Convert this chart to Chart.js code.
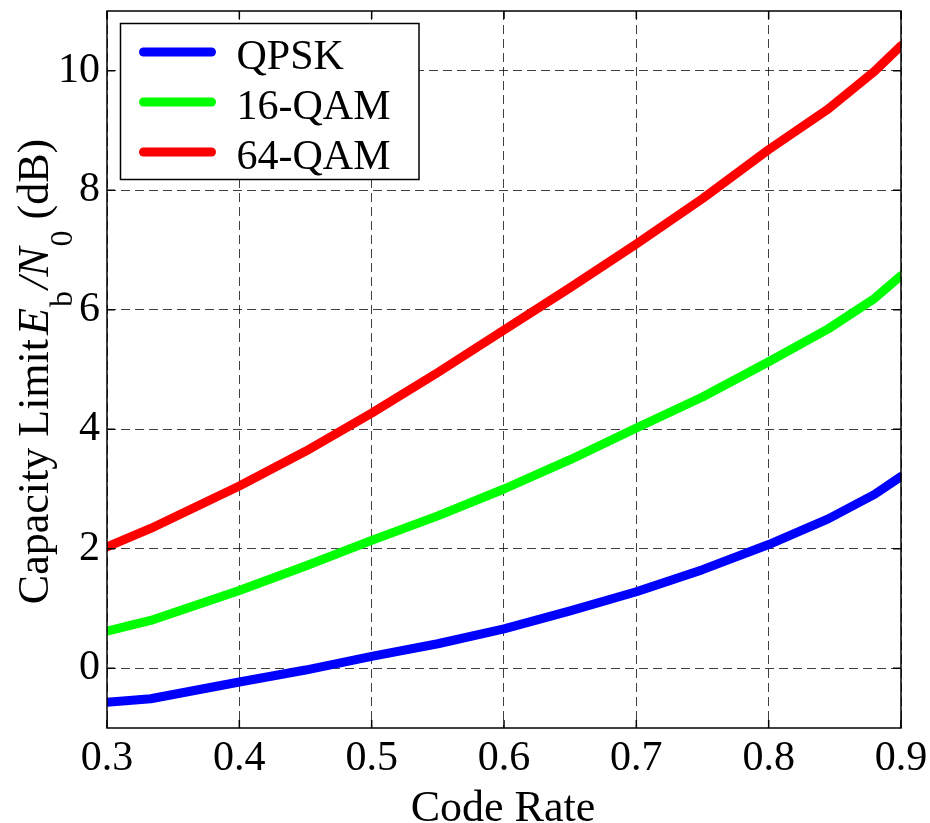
<!DOCTYPE html>
<html>
<head>
<meta charset="utf-8">
<title>Capacity limit vs code rate</title>
<script src="https://cdn.jsdelivr.net/npm/chart.js@4/dist/chart.umd.min.js"></script>
<style>
  html, body { margin: 0; padding: 0; background: #fff; }
  #wrap { width: 930px; height: 823px; }
</style>
</head>
<body>
<div id="wrap"><canvas id="chart" width="930" height="823"></canvas></div>
<script>
// code rates (x) and Eb/N0 capacity limits in dB for each modulation
const codeRate = [0.3, 0.333, 0.4, 0.45, 0.5, 0.55, 0.6, 0.65, 0.7, 0.75, 0.8, 0.845, 0.88, 0.9];
const qpsk  = [-0.57, -0.51, -0.23, -0.03, 0.20, 0.41, 0.66, 0.96, 1.28, 1.65, 2.07, 2.50, 2.91, 3.21];
const qam16 = [0.62, 0.80, 1.30, 1.71, 2.14, 2.55, 3.00, 3.49, 4.02, 4.54, 5.13, 5.68, 6.19, 6.57];
const qam64 = [2.03, 2.34, 3.05, 3.63, 4.27, 4.95, 5.66, 6.37, 7.10, 7.86, 8.68, 9.36, 9.99, 10.42];

const seriesNames = ['QPSK', '16-QAM', '64-QAM'];
const seriesColors = ['#0000ff', '#00ff00', '#ff0000'];

const xTicks = [0.3, 0.4, 0.5, 0.6, 0.7, 0.8, 0.9];
const yTicks = [0, 2, 4, 6, 8, 10];

const FONT = "'Liberation Serif', 'Times New Roman', serif";

function toPoints(ys) {
    return codeRate.map((x, i) => ({ x: x, y: ys[i] }));
}

// box around the axes plus matlab-style inward tick marks
const axesBox = {
    id: 'axesBox',
    afterDatasetsDraw(chart) {
        const { ctx, chartArea: a, scales } = chart;
        const len = 8;
        ctx.save();
        ctx.strokeStyle = '#000';
        ctx.lineWidth = 1.5;
        ctx.beginPath();
        xTicks.forEach(v => {
            const px = scales.x.getPixelForValue(v);
            ctx.moveTo(px, a.bottom); ctx.lineTo(px, a.bottom - len);
            ctx.moveTo(px, a.top); ctx.lineTo(px, a.top + len);
        });
        yTicks.forEach(v => {
            const py = scales.y.getPixelForValue(v);
            ctx.moveTo(a.left, py); ctx.lineTo(a.left + len, py);
            ctx.moveTo(a.right, py); ctx.lineTo(a.right - len, py);
        });
        ctx.stroke();
        ctx.strokeRect(a.left, a.top, a.right - a.left, a.bottom - a.top);
        ctx.restore();
    }
};

// legend box in the upper-left corner of the plot
const boxLegend = {
    id: 'boxLegend',
    afterDraw(chart) {
        const { ctx, chartArea: a } = chart;
        const x0 = a.left + 13.5, y0 = a.top + 12.5;
        const w = 298.5, h = 156;
        ctx.save();
        ctx.fillStyle = '#fff';
        ctx.fillRect(x0, y0, w, h);
        ctx.strokeStyle = '#000';
        ctx.lineWidth = 1.5;
        ctx.strokeRect(x0, y0, w, h);
        ctx.font = '42px ' + FONT;
        ctx.textBaseline = 'alphabetic';
        ctx.textAlign = 'left';
        chart.data.datasets.forEach((ds, i) => {
            const cy = y0 + 28.5 + i * 50;
            ctx.strokeStyle = ds.borderColor;
            ctx.lineWidth = 9;
            ctx.lineCap = 'round';
            ctx.beginPath();
            ctx.moveTo(x0 + 23, cy);
            ctx.lineTo(x0 + 91, cy);
            ctx.stroke();
            ctx.fillStyle = '#000';
            ctx.fillText(ds.label, x0 + 116, cy + 16.5);
        });
        ctx.restore();
    }
};

// axis titles; the y title needs italic letters and subscripts
const axisTitles = {
    id: 'axisTitles',
    afterDraw(chart) {
        const { ctx, chartArea: a } = chart;
        ctx.save();
        ctx.fillStyle = '#000';
        ctx.textBaseline = 'alphabetic';

        ctx.font = '44px ' + FONT;
        ctx.textAlign = 'center';
        ctx.fillText('Code Rate', (a.left + a.right) / 2 - 1, 821);

        const main = '44px ' + FONT;
        const ital = 'italic 44px ' + FONT;
        const sub = '32px ' + FONT;
        const parts = [
            { t: 'Capacity Limit', f: main, dy: 0, gap: 4 },
            { t: 'E', f: ital, dy: 0, gap: 1 },
            { t: 'b', f: sub, dy: 24, gap: 2 },
            { t: '/', f: ital, dy: 0, gap: 0 },
            { t: 'N', f: ital, dy: 0, gap: 1 },
            { t: '0', f: sub, dy: 24, gap: 0 },
            { t: ' (dB)', f: main, dy: 0, gap: 0 }
        ];
        let total = 0;
        parts.forEach(p => { ctx.font = p.f; p.w = ctx.measureText(p.t).width; total += p.w + p.gap; });
        ctx.translate(48, 371.5);
        ctx.rotate(-Math.PI / 2);
        ctx.textAlign = 'left';
        let x = -total / 2;
        parts.forEach(p => {
            ctx.font = p.f;
            ctx.fillText(p.t, x, p.dy);
            x += p.w + p.gap;
        });
        ctx.restore();
    }
};

const gridStyle = {
    color: 'rgba(0, 0, 0, 0.75)',
    lineWidth: 1,
    drawTicks: false
};

// keep the plot box where the layout padding puts it
function noEdgePadding(s) {
    s.paddingTop = 0;
    s.paddingBottom = 0;
    s.paddingLeft = 0;
    s.paddingRight = 0;
}

new Chart(document.getElementById('chart'), {
    type: 'line',
    data: {
        datasets: [qpsk, qam16, qam64].map((ys, i) => ({
            label: seriesNames[i],
            data: toPoints(ys),
            borderColor: seriesColors[i],
            backgroundColor: seriesColors[i],
            borderWidth: 9,
            borderJoinStyle: 'round',
            borderCapStyle: 'round',
            pointRadius: 0,
            tension: 0,
            fill: false,
            clip: 0
        }))
    },
    options: {
        responsive: false,
        animation: false,
        events: [],
        layout: { padding: { top: 11, right: 29, left: 0, bottom: 0 } },
        plugins: {
            legend: { display: false },
            tooltip: { enabled: false },
            title: { display: false }
        },
        scales: {
            x: {
                type: 'linear',
                min: 0.3,
                max: 0.9,
                afterBuildTicks: s => { s.ticks = xTicks.map(v => ({ value: v })); },
                afterFit: s => { s.height = 95; noEdgePadding(s); },
                ticks: {
                    font: { family: FONT, size: 42 },
                    color: '#000',
                    padding: 6,
                    maxRotation: 0,
                    callback: v => v.toFixed(1)
                },
                grid: gridStyle,
                border: { display: false, dash: [9, 5] }
            },
            y: {
                type: 'linear',
                min: -1,
                max: 11,
                afterBuildTicks: s => { s.ticks = yTicks.map(v => ({ value: v })); },
                afterFit: s => { s.width = 107; noEdgePadding(s); },
                ticks: {
                    font: { family: FONT, size: 42 },
                    color: '#000',
                    padding: 7,
                    callback: v => String(v)
                },
                grid: gridStyle,
                border: { display: false, dash: [9, 5] }
            }
        }
    },
    plugins: [axesBox, boxLegend, axisTitles]
});
</script>
</body>
</html>
